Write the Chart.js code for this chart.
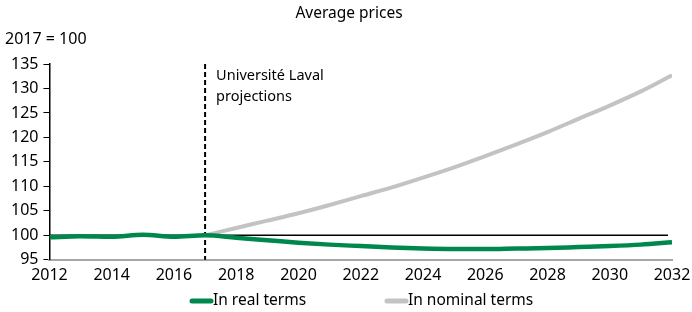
<!DOCTYPE html>
<html>
<head>
<meta charset="utf-8">
<script src="https://cdn.jsdelivr.net/npm/chart.js@4.4.1/dist/chart.umd.min.js"></script>
<style>
  html, body { margin: 0; padding: 0; background: #fff; }
  #wrap { width: 692px; height: 312px; }
</style>
</head>
<body>
<div id="wrap"><canvas id="priceChart" width="692" height="312"></canvas></div>
<script>
var years = [2012, 2013, 2014, 2015, 2016, 2017, 2018, 2019, 2020, 2021, 2022,
             2023, 2024, 2025, 2026, 2027, 2028, 2029, 2030, 2031, 2032];
var realTerms = [99.6, 99.8, 99.7, 100.1, 99.7, 100.0, 99.5, 99.0, 98.5, 98.1, 97.8,
                 97.5, 97.3, 97.2, 97.2, 97.3, 97.4, 97.6, 97.8, 98.1, 98.6];
var nominalTerms = [null, null, null, null, null, 100.0, 101.5, 103.0, 104.5, 106.2, 108.0,
                    109.8, 111.8, 113.9, 116.2, 118.6, 121.1, 123.8, 126.5, 129.4, 132.7];
var yTicks = [95, 100, 105, 110, 115, 120, 125, 130, 135];
var baseIndex = 100;
var projectionStart = 2017;
var projectionNote = ['Université Laval', 'projections'];

var FONT = '"Noto Sans", "Open Sans", sans-serif';

function toPoints(vals) {
    return years.map(function(y, i) { return { x: y, y: vals[i] }; });
}

// reference line at 100, dashed projection marker, header texts, custom legend
var extras = {
    id: 'extras',
    beforeDatasetsDraw: function(chart) {
        var c = chart.ctx, xs = chart.scales.x, ys = chart.scales.y, a = chart.chartArea;
        c.save();
        var yb = ys.getPixelForValue(baseIndex);
        c.strokeStyle = '#000';
        c.lineWidth = 1.5;
        c.beginPath();
        c.moveTo(a.left, yb);
        c.lineTo(a.right - 4, yb);
        c.stroke();

        var xp = xs.getPixelForValue(projectionStart);
        c.setLineDash([5, 3]);
        c.lineWidth = 2;
        c.beginPath();
        c.moveTo(xp, a.top);
        c.lineTo(xp, a.bottom);
        c.stroke();
        c.setLineDash([]);

        c.fillStyle = '#000';
        c.font = '14.5px ' + FONT;
        c.textBaseline = 'middle';
        c.textAlign = 'left';
        c.fillText(projectionNote[0], xp + 11, a.top + 12);
        c.fillText(projectionNote[1], xp + 11, a.top + 33);
        c.restore();
    },
    afterDraw: function(chart) {
        var c = chart.ctx;
        c.save();
        c.fillStyle = '#000';
        c.textBaseline = 'middle';
        c.font = '15.5px ' + FONT;
        c.textAlign = 'center';
        c.fillText('Average prices', 349, 14);
        c.textAlign = 'left';
        c.font = '16px ' + FONT;
        c.fillText('2017 = 100', 5, 39);

        var starts = [190, 385];
        chart.data.datasets.forEach(function(ds, i) {
            var x0 = starts[i], yl = 301;
            c.strokeStyle = ds.borderColor;
            c.lineWidth = 5;
            c.lineCap = 'round';
            c.beginPath();
            c.moveTo(x0 + 2, yl);
            c.lineTo(x0 + 21, yl);
            c.stroke();
            c.fillStyle = '#000';
            c.font = '15.5px ' + FONT;
            c.fillText(ds.label, x0 + 23, yl);
        });
        c.restore();
    }
};

new Chart(document.getElementById('priceChart').getContext('2d'), {
    type: 'line',
    data: {
        datasets: [{
            label: 'In real terms',
            data: toPoints(realTerms),
            borderColor: '#00874e',
            borderWidth: 4.5,
            pointRadius: 0,
            cubicInterpolationMode: 'monotone'
        }, {
            label: 'In nominal terms',
            data: toPoints(nominalTerms),
            borderColor: '#c3c3c3',
            borderWidth: 4,
            pointRadius: 0,
            spanGaps: false,
            cubicInterpolationMode: 'monotone'
        }]
    },
    options: {
        responsive: false,
        animation: false,
        layout: { padding: { top: 64, left: 6, right: 0, bottom: 21 } },
        plugins: {
            legend: { display: false },
            title: { display: false },
            tooltip: { enabled: false }
        },
        scales: {
            x: {
                type: 'linear',
                min: 2012,
                max: 2032,
                afterFit: function(scale) { scale.paddingRight = 20; },
                grid: { display: false, drawTicks: false },
                border: { color: '#a6a6a6', width: 2 },
                ticks: {
                    stepSize: 2,
                    padding: 6,
                    color: '#000',
                    font: { family: FONT, size: 16 },
                    callback: function(v) { return String(v); }
                }
            },
            y: {
                min: 95,
                max: 135,
                afterBuildTicks: function(axis) {
                    axis.ticks = yTicks.map(function(v) { return { value: v }; });
                },
                grid: { drawOnChartArea: false, drawTicks: true, tickLength: 6, color: '#000' },
                border: { color: '#000', width: 1.5 },
                ticks: {
                    padding: 5,
                    color: '#000',
                    font: { family: FONT, size: 16 }
                }
            }
        }
    },
    plugins: [extras]
});
</script>
</body>
</html>
